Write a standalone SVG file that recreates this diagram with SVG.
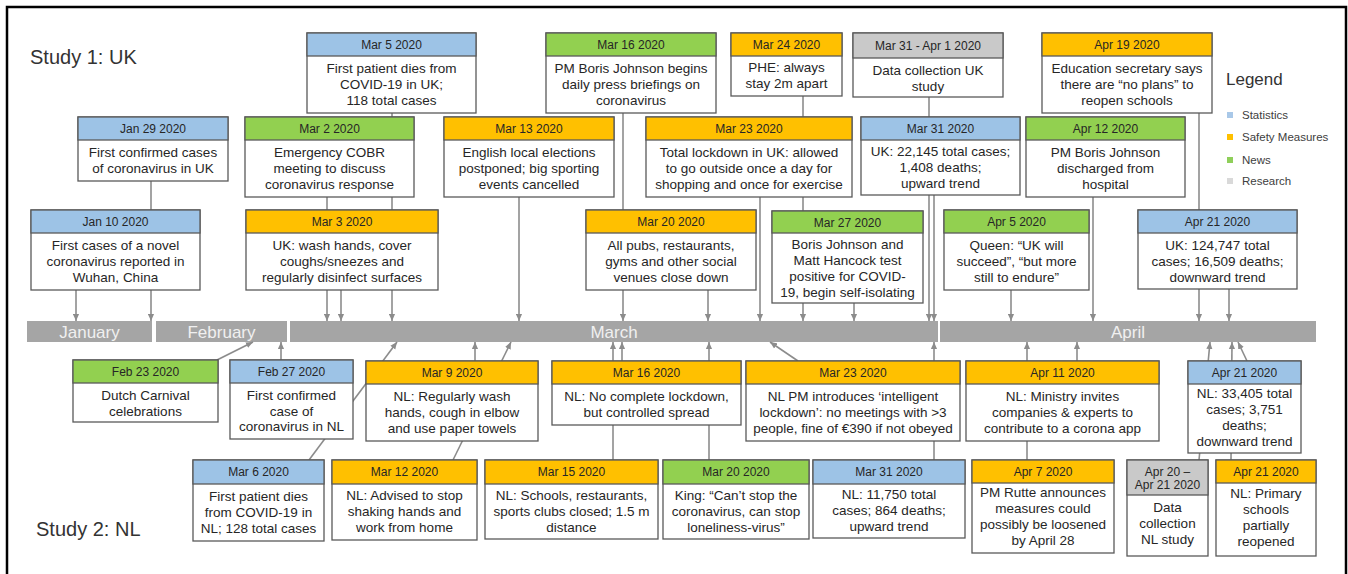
<svg xmlns="http://www.w3.org/2000/svg" width="1348" height="574" viewBox="0 0 1348 574">
<defs>
<marker id="ar" viewBox="0 0 8 8" refX="8" refY="4" markerWidth="7" markerHeight="7" markerUnits="userSpaceOnUse" orient="auto"><path d="M0,0.5 L8,4 L0,7.5 z" fill="#8c8c8c"/></marker>
</defs>
<style>
text{font-family:"Liberation Sans",Arial,sans-serif}
.b{fill:#fff;stroke:#595959;stroke-width:1.3}
.hb{fill:#9dc3e6}.ho{fill:#ffc000}.hg{fill:#92d050}.hy{fill:#c9c9c9}
.ht{font-size:12px;fill:#262626;text-anchor:middle}
.bt{font-size:13.5px;fill:#262626;text-anchor:middle}
.bar{fill:#a5a5a5}
.mt{font-size:17px;fill:#f0f0f0;text-anchor:middle}
.c line{stroke:#8c8c8c;stroke-width:1.6;marker-end:url(#ar)}
.st{font-size:20px;fill:#333}
.lg{font-size:11.5px;fill:#404040}
</style>
<rect x="0" y="0" width="1348" height="574" fill="#fff"/>
<rect x="7" y="7" width="1339" height="600" fill="none" stroke="#000" stroke-width="2.5"/>

<text class="st" x="30" y="64">Study 1: UK</text>
<text class="st" x="36" y="536">Study 2: NL</text>

<g id="legend">
<text x="1226" y="85" style="font-size:17px;fill:#333">Legend</text>
<rect x="1227" y="112" width="6" height="6" fill="#a9c8e8"/><text class="lg" x="1242" y="119">Statistics</text>
<rect x="1227" y="134" width="6" height="6" fill="#ffc000"/><text class="lg" x="1242" y="141">Safety Measures</text>
<rect x="1227" y="157" width="6" height="6" fill="#8fcf5a"/><text class="lg" x="1242" y="164">News</text>
<rect x="1227" y="178" width="6" height="6" fill="#d9d9d9"/><text class="lg" x="1242" y="185">Research</text>
</g>

<g id="timeline">
<rect class="bar" x="27" y="321" width="125" height="21"/>
<rect class="bar" x="156" y="321" width="131" height="21"/>
<rect class="bar" x="290" y="321" width="648" height="21"/>
<rect class="bar" x="940" y="321" width="376" height="21"/>
<text class="mt" x="89.5" y="338">January</text>
<text class="mt" x="221.5" y="338">February</text>
<text class="mt" x="614" y="338">March</text>
<text class="mt" x="1128" y="338">April</text>
</g>

<g id="connectors" class="c">
<line x1="76" y1="290" x2="76" y2="321"/>
<line x1="151" y1="181" x2="151" y2="321"/>
<line x1="392" y1="113" x2="392" y2="321"/>
<line x1="327" y1="197" x2="327" y2="321"/>
<line x1="341" y1="290" x2="341" y2="321"/>
<line x1="519" y1="197" x2="519" y2="321"/>
<line x1="623" y1="113" x2="623" y2="321"/>
<line x1="708" y1="290" x2="708" y2="321"/>
<line x1="760" y1="197" x2="760" y2="321"/>
<line x1="803" y1="96" x2="803" y2="321"/>
<line x1="854" y1="303" x2="854" y2="321"/>
<line x1="929" y1="97" x2="929" y2="321"/>
<line x1="934" y1="195" x2="934" y2="321"/>
<line x1="1011" y1="290" x2="1011" y2="321"/>
<line x1="1093" y1="197" x2="1093" y2="321"/>
<line x1="1199" y1="113" x2="1199" y2="321"/>
<line x1="1229" y1="289" x2="1229" y2="321"/>
<line x1="217" y1="360" x2="253" y2="342"/>
<line x1="281" y1="360" x2="281" y2="342"/>
<line x1="309" y1="460" x2="397" y2="342"/>
<line x1="475" y1="361" x2="475" y2="342"/>
<line x1="453" y1="460" x2="511" y2="342"/>
<line x1="613" y1="460" x2="613" y2="342"/>
<line x1="622" y1="361" x2="622" y2="342"/>
<line x1="709" y1="460" x2="709" y2="342"/>
<line x1="798" y1="361" x2="770" y2="342"/>
<line x1="934" y1="460" x2="934" y2="342"/>
<line x1="1027" y1="460" x2="1027" y2="342"/>
<line x1="1077" y1="361" x2="1077" y2="342"/>
<line x1="1199" y1="460" x2="1210" y2="342"/>
<line x1="1231" y1="460" x2="1232" y2="342"/>
<line x1="1247" y1="361" x2="1238" y2="342"/>
</g>

<g id="uk-mar05"><rect class="b" x="307" y="33" width="169" height="80"/><rect class="b hb" x="307" y="33" width="169" height="23"/><text class="ht" x="391.5" y="49">Mar 5 2020</text><text class="bt"><tspan x="391.5" y="73">First patient dies from</tspan><tspan x="391.5" y="89">COVID-19 in UK;</tspan><tspan x="391.5" y="105">118 total cases</tspan></text></g>
<g id="uk-mar16"><rect class="b" x="546" y="33" width="170" height="80"/><rect class="b hg" x="546" y="33" width="170" height="23"/><text class="ht" x="631" y="49">Mar 16 2020</text><text class="bt"><tspan x="631" y="73">PM Boris Johnson begins</tspan><tspan x="631" y="89">daily press briefings on</tspan><tspan x="631" y="105">coronavirus</tspan></text></g>
<g id="uk-mar24"><rect class="b" x="731" y="33" width="111" height="63"/><rect class="b ho" x="731" y="33" width="111" height="23"/><text class="ht" x="786.5" y="49">Mar 24 2020</text><text class="bt"><tspan x="786.5" y="72">PHE: always</tspan><tspan x="786.5" y="88">stay 2m apart</tspan></text></g>
<g id="uk-data"><rect class="b" x="853" y="33" width="150" height="64"/><rect class="b hy" x="853" y="33" width="150" height="25"/><text class="ht" x="928" y="50">Mar 31 - Apr 1 2020</text><text class="bt"><tspan x="928" y="75">Data collection UK</tspan><tspan x="928" y="91">study</tspan></text></g>
<g id="uk-apr19"><rect class="b" x="1042" y="33" width="170" height="80"/><rect class="b ho" x="1042" y="33" width="170" height="23"/><text class="ht" x="1127" y="49">Apr 19 2020</text><text class="bt"><tspan x="1127" y="73">Education secretary says</tspan><tspan x="1127" y="89">there are “no plans” to</tspan><tspan x="1127" y="105">reopen schools</tspan></text></g>

<g id="uk-jan29"><rect class="b" x="78" y="117" width="150" height="64"/><rect class="b hb" x="78" y="117" width="150" height="23"/><text class="ht" x="153" y="133">Jan 29 2020</text><text class="bt"><tspan x="153" y="157">First confirmed cases</tspan><tspan x="153" y="173">of coronavirus in UK</tspan></text></g>
<g id="uk-mar02"><rect class="b" x="245" y="117" width="169" height="80"/><rect class="b hg" x="245" y="117" width="169" height="23"/><text class="ht" x="329.5" y="133">Mar 2 2020</text><text class="bt"><tspan x="329.5" y="157">Emergency COBR</tspan><tspan x="329.5" y="173">meeting to discuss</tspan><tspan x="329.5" y="189">coronavirus response</tspan></text></g>
<g id="uk-mar13"><rect class="b" x="444" y="117" width="170" height="80"/><rect class="b ho" x="444" y="117" width="170" height="23"/><text class="ht" x="529" y="133">Mar 13 2020</text><text class="bt"><tspan x="529" y="157">English local elections</tspan><tspan x="529" y="173">postponed; big sporting</tspan><tspan x="529" y="189">events cancelled</tspan></text></g>
<g id="uk-mar23"><rect class="b" x="646" y="117" width="206" height="80"/><rect class="b ho" x="646" y="117" width="206" height="23"/><text class="ht" x="749" y="133">Mar 23 2020</text><text class="bt"><tspan x="749" y="157">Total lockdown in UK: allowed</tspan><tspan x="749" y="173">to go outside once a day for</tspan><tspan x="749" y="189">shopping and once for exercise</tspan></text></g>
<g id="uk-mar31"><rect class="b" x="861" y="117" width="159" height="78"/><rect class="b hb" x="861" y="117" width="159" height="23"/><text class="ht" x="940.5" y="133">Mar 31 2020</text><text class="bt"><tspan x="940.5" y="156">UK: 22,145 total cases;</tspan><tspan x="940.5" y="172">1,408 deaths;</tspan><tspan x="940.5" y="188">upward trend</tspan></text></g>
<g id="uk-apr12"><rect class="b" x="1026" y="117" width="159" height="80"/><rect class="b hg" x="1026" y="117" width="159" height="23"/><text class="ht" x="1105.5" y="133">Apr 12 2020</text><text class="bt"><tspan x="1105.5" y="157">PM Boris Johnson</tspan><tspan x="1105.5" y="173">discharged from</tspan><tspan x="1105.5" y="189">hospital</tspan></text></g>

<g id="uk-jan10"><rect class="b" x="31" y="210" width="169" height="80"/><rect class="b hb" x="31" y="210" width="169" height="23"/><text class="ht" x="115.5" y="226">Jan 10 2020</text><text class="bt"><tspan x="115.5" y="250">First cases of a novel</tspan><tspan x="115.5" y="266">coronavirus reported in</tspan><tspan x="115.5" y="282">Wuhan, China</tspan></text></g>
<g id="uk-mar03"><rect class="b" x="246" y="210" width="192" height="80"/><rect class="b ho" x="246" y="210" width="192" height="23"/><text class="ht" x="342" y="226">Mar 3 2020</text><text class="bt"><tspan x="342" y="250">UK: wash hands, cover</tspan><tspan x="342" y="266">coughs/sneezes and</tspan><tspan x="342" y="282">regularly disinfect surfaces</tspan></text></g>
<g id="uk-mar20"><rect class="b" x="586" y="210" width="170" height="80"/><rect class="b ho" x="586" y="210" width="170" height="23"/><text class="ht" x="671" y="226">Mar 20 2020</text><text class="bt"><tspan x="671" y="250">All pubs, restaurants,</tspan><tspan x="671" y="266">gyms and other social</tspan><tspan x="671" y="282">venues close down</tspan></text></g>
<g id="uk-mar27"><rect class="b" x="772" y="211" width="151" height="92"/><rect class="b hg" x="772" y="211" width="151" height="22"/><text class="ht" x="847.5" y="226.5">Mar 27 2020</text><text class="bt"><tspan x="847.5" y="249">Boris Johnson and</tspan><tspan x="847.5" y="265">Matt Hancock test</tspan><tspan x="847.5" y="281">positive for COVID-</tspan><tspan x="847.5" y="297">19, begin self-isolating</tspan></text></g>
<g id="uk-apr05"><rect class="b" x="944" y="210" width="145" height="80"/><rect class="b hg" x="944" y="210" width="145" height="23"/><text class="ht" x="1016.5" y="226">Apr 5 2020</text><text class="bt"><tspan x="1016.5" y="250">Queen: “UK will</tspan><tspan x="1016.5" y="266">succeed”, “but more</tspan><tspan x="1016.5" y="282">still to endure”</tspan></text></g>
<g id="uk-apr21"><rect class="b" x="1138" y="210" width="159" height="79"/><rect class="b hb" x="1138" y="210" width="159" height="23"/><text class="ht" x="1217.5" y="226">Apr 21 2020</text><text class="bt"><tspan x="1217.5" y="250">UK: 124,747 total</tspan><tspan x="1217.5" y="266">cases; 16,509 deaths;</tspan><tspan x="1217.5" y="282">downward trend</tspan></text></g>

<g id="nl-feb23"><rect class="b" x="73" y="360" width="145" height="62"/><rect class="b hg" x="73" y="360" width="145" height="23"/><text class="ht" x="145.5" y="376">Feb 23 2020</text><text class="bt"><tspan x="145.5" y="400">Dutch Carnival</tspan><tspan x="145.5" y="416">celebrations</tspan></text></g>
<g id="nl-feb27"><rect class="b" x="230" y="360" width="123" height="79"/><rect class="b hb" x="230" y="360" width="123" height="23"/><text class="ht" x="291.5" y="376">Feb 27 2020</text><text class="bt"><tspan x="291.5" y="400">First confirmed</tspan><tspan x="291.5" y="415.5">case of</tspan><tspan x="291.5" y="431">coronavirus in NL</tspan></text></g>
<g id="nl-mar09"><rect class="b" x="366" y="361" width="172" height="80"/><rect class="b ho" x="366" y="361" width="172" height="23"/><text class="ht" x="452" y="377">Mar 9 2020</text><text class="bt"><tspan x="452" y="401">NL: Regularly wash</tspan><tspan x="452" y="417">hands, cough in elbow</tspan><tspan x="452" y="433">and use paper towels</tspan></text></g>
<g id="nl-mar16"><rect class="b" x="552" y="361" width="189" height="64"/><rect class="b ho" x="552" y="361" width="189" height="23"/><text class="ht" x="646.5" y="377">Mar 16 2020</text><text class="bt"><tspan x="646.5" y="401">NL: No complete lockdown,</tspan><tspan x="646.5" y="417">but controlled spread</tspan></text></g>
<g id="nl-mar23"><rect class="b" x="746" y="361" width="214" height="80"/><rect class="b ho" x="746" y="361" width="214" height="23"/><text class="ht" x="853" y="377">Mar 23 2020</text><text class="bt"><tspan x="853" y="401">NL PM introduces ‘intelligent</tspan><tspan x="853" y="417">lockdown’: no meetings with &gt;3</tspan><tspan x="853" y="433">people, fine of €390 if not obeyed</tspan></text></g>
<g id="nl-apr11"><rect class="b" x="966" y="361" width="193" height="80"/><rect class="b ho" x="966" y="361" width="193" height="23"/><text class="ht" x="1062.5" y="377">Apr 11 2020</text><text class="bt"><tspan x="1062.5" y="401">NL: Ministry invites</tspan><tspan x="1062.5" y="417">companies &amp; experts to</tspan><tspan x="1062.5" y="433">contribute to a corona app</tspan></text></g>
<g id="nl-apr21s"><rect class="b" x="1188" y="361" width="113" height="92"/><rect class="b hb" x="1188" y="361" width="113" height="23"/><text class="ht" x="1244.5" y="377">Apr 21 2020</text><text class="bt"><tspan x="1244.5" y="398">NL: 33,405 total</tspan><tspan x="1244.5" y="414">cases; 3,751</tspan><tspan x="1244.5" y="430">deaths;</tspan><tspan x="1244.5" y="446">downward trend</tspan></text></g>

<g id="nl-mar06"><rect class="b" x="193" y="460" width="131" height="81"/><rect class="b hb" x="193" y="460" width="131" height="24"/><text class="ht" x="258.5" y="476">Mar 6 2020</text><text class="bt"><tspan x="258.5" y="501">First patient dies</tspan><tspan x="258.5" y="517">from COVID-19 in</tspan><tspan x="258.5" y="533">NL; 128 total cases</tspan></text></g>
<g id="nl-mar12"><rect class="b" x="332" y="460" width="145" height="80"/><rect class="b ho" x="332" y="460" width="145" height="24"/><text class="ht" x="404.5" y="476">Mar 12 2020</text><text class="bt"><tspan x="404.5" y="500">NL: Advised to stop</tspan><tspan x="404.5" y="516">shaking hands and</tspan><tspan x="404.5" y="532">work from home</tspan></text></g>
<g id="nl-mar15"><rect class="b" x="485" y="460" width="173" height="79"/><rect class="b ho" x="485" y="460" width="173" height="24"/><text class="ht" x="571.5" y="476">Mar 15 2020</text><text class="bt"><tspan x="571.5" y="500">NL: Schools, restaurants,</tspan><tspan x="571.5" y="516">sports clubs closed; 1.5 m</tspan><tspan x="571.5" y="532">distance</tspan></text></g>
<g id="nl-mar20"><rect class="b" x="663" y="460" width="146" height="79"/><rect class="b hg" x="663" y="460" width="146" height="24"/><text class="ht" x="736" y="476">Mar 20 2020</text><text class="bt"><tspan x="736" y="500">King: “Can’t stop the</tspan><tspan x="736" y="516">coronavirus, can stop</tspan><tspan x="736" y="532">loneliness-virus”</tspan></text></g>
<g id="nl-mar31"><rect class="b" x="813" y="460" width="152" height="78"/><rect class="b hb" x="813" y="460" width="152" height="24"/><text class="ht" x="889" y="476">Mar 31 2020</text><text class="bt"><tspan x="889" y="499">NL: 11,750 total</tspan><tspan x="889" y="515">cases; 864 deaths;</tspan><tspan x="889" y="531">upward trend</tspan></text></g>
<g id="nl-apr07"><rect class="b" x="972" y="460" width="142" height="93"/><rect class="b ho" x="972" y="460" width="142" height="23"/><text class="ht" x="1043" y="476">Apr 7 2020</text><text class="bt"><tspan x="1043" y="497">PM Rutte announces</tspan><tspan x="1043" y="513">measures could</tspan><tspan x="1043" y="529">possibly be loosened</tspan><tspan x="1043" y="545">by April 28</tspan></text></g>
<g id="nl-data"><rect class="b" x="1127" y="460" width="81" height="96"/><rect class="b hy" x="1127" y="460" width="81" height="35"/><text class="ht"><tspan x="1167.5" y="476">Apr 20 –</tspan><tspan x="1167.5" y="489">Apr 21 2020</tspan></text><text class="bt"><tspan x="1167.5" y="512">Data</tspan><tspan x="1167.5" y="528">collection</tspan><tspan x="1167.5" y="544">NL study</tspan></text></g>
<g id="nl-apr21m"><rect class="b" x="1216" y="460" width="100" height="96"/><rect class="b ho" x="1216" y="460" width="100" height="23"/><text class="ht" x="1266" y="476">Apr 21 2020</text><text class="bt"><tspan x="1266" y="498">NL: Primary</tspan><tspan x="1266" y="514">schools</tspan><tspan x="1266" y="530">partially</tspan><tspan x="1266" y="546">reopened</tspan></text></g>
</svg>
